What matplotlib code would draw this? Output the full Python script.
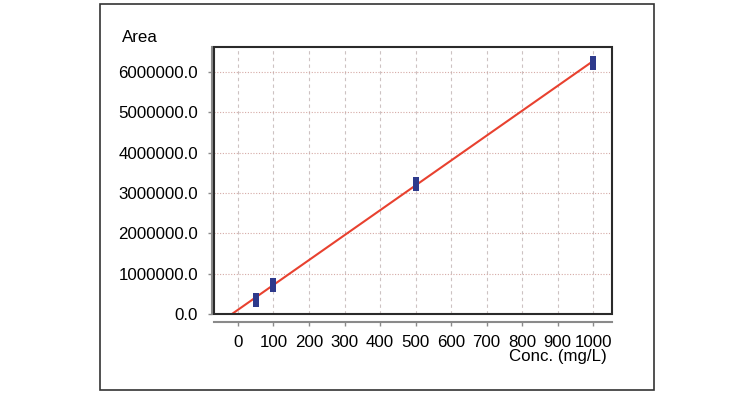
import matplotlib
matplotlib.use("Agg")
import matplotlib.pyplot as plt
from matplotlib.patches import Rectangle
from matplotlib.ticker import FuncFormatter

plt.rcParams['font.family'] = ['Liberation Sans', 'DejaVu Sans']

# Data
conc = [50, 100, 500, 1000]
area = [350000, 720000, 3230000, 6220000]
line_x = [-17, 1000]
line_y = [0, 6270000]
x_ticks = [0, 100, 200, 300, 400, 500, 600, 700, 800, 900, 1000]
y_ticks = [0, 1000000, 2000000, 3000000, 4000000, 5000000, 6000000]

W, H = 756, 399
fig = plt.figure(figsize=(W / 100, H / 100), dpi=100)

# outer frame
fig.patches.append(Rectangle((100 / W, (H - 390) / H), 554 / W, 386 / H,
                             transform=fig.transFigure, fill=False,
                             ec='#333333', lw=1.2))

ax = fig.add_axes([214 / W, (H - 314) / H, (612 - 214) / W, (314 - 47) / H])
ax.set_xlim(-67.6, 1053.5)
ax.set_ylim(0, 6620000)

# grid
for xv in x_ticks:
    ax.axvline(xv, color='#cdc2c2', lw=0.8, dashes=(3, 3), zorder=1)
for yv in y_ticks[1:]:
    ax.axhline(yv, color='#d5aaa6', lw=0.8, dashes=(1, 1.5), zorder=1)

ax.plot(line_x, line_y, color='#e8412f', lw=1.5, zorder=3)
rect = [(-0.26, -0.5), (0.26, -0.5), (0.26, 0.5), (-0.26, 0.5), (-0.26, -0.5)]
ax.plot(conc, area, linestyle='none', marker=rect, markersize=9.4,
        markeredgewidth=0, color='#2e3a8c', zorder=4)

# box
ax.add_patch(Rectangle((0, 0), 1, 1, transform=ax.transAxes, fill=False,
                       ec='#2a2a2a', lw=1.5, clip_on=False, zorder=5))

for s in ['top', 'right']:
    ax.spines[s].set_visible(False)
ax.spines['left'].set_position(('outward', 1.5))
ax.spines['bottom'].set_position(('outward', 5.8))
for s in ['left', 'bottom']:
    ax.spines[s].set_color('#8a8a8a')
    ax.spines[s].set_linewidth(1.5)

ax.set_xticks(x_ticks)
ax.set_yticks(y_ticks)
ax.yaxis.set_major_formatter(FuncFormatter(lambda v, p: f"{v:.1f}"))
ax.tick_params(axis='both', colors='#8a8a8a', length=3, width=1, labelcolor='black',
               labelsize=12.2)
ax.tick_params(axis='y', pad=7)
ax.tick_params(axis='x', pad=6)

fig.text(122 / W, 1 - 37 / H, 'Area', ha='left', va='center', fontsize=12.2)
fig.text(607 / W, 1 - 356 / H, 'Conc. (mg/L)', ha='right', va='center', fontsize=12.2)

fig.savefig('out.png', dpi=100)
